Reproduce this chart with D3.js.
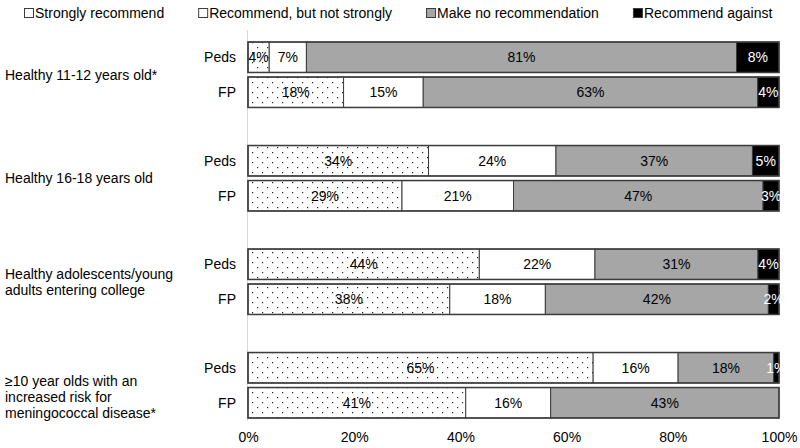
<!DOCTYPE html>
<html>
<head>
<meta charset="utf-8">
<script src="https://cdn.jsdelivr.net/npm/d3@7"></script>
<style>
  body { margin: 0; background: #fff; }
  text { font-family: "Liberation Sans", Arial, sans-serif; }
</style>
</head>
<body>
<div id="chart"></div>
<script>
const keys = ["Strongly recommend", "Recommend, but not strongly", "Make no recommendation", "Recommend against"];
const groups = [
    ["Healthy 11-12 years old*"],
    ["Healthy 16-18 years old"],
    ["Healthy adolescents/young", "adults entering college"],
    ["\u226510 year olds with an", "increased risk for", "meningococcal disease*"]
];
const rows = ["Peds", "FP"];
const pedsValues = [[4, 7, 81, 8], [34, 24, 37, 5], [44, 22, 31, 4], [65, 16, 18, 1]];
const fpValues = [[18, 15, 63, 4], [29, 21, 47, 3], [38, 18, 42, 2], [41, 16, 43, 0]];
const ticks = [0, 20, 40, 60, 80, 100];

const W = 800, H = 448;
const margin = { top: 23, right: 21, bottom: 11, left: 248 };

const svg = d3.select("#chart").append("svg")
    .attr("width", W)
    .attr("height", H);

// dotted fill for "strongly recommend"
const pat = svg.append("defs").append("pattern")
    .attr("id", "dots")
    .attr("patternUnits", "userSpaceOnUse")
    .attr("width", 10)
    .attr("height", 10);
pat.append("rect").attr("width", 10).attr("height", 10).attr("fill", "#fff");
pat.append("rect").attr("x", 2).attr("y", 2).attr("width", 1.2).attr("height", 1.2).attr("fill", "#222");
pat.append("rect").attr("x", 7).attr("y", 7).attr("width", 1.2).attr("height", 1.2).attr("fill", "#222");

const fills = ["url(#dots)", "#ffffff", "#a6a6a6", "#000000"];
const labelColors = ["#000", "#000", "#000", "#fff"];

const x = d3.scaleLinear()
    .domain([0, 100])
    .range([margin.left, W - margin.right]);

const yGroup = d3.scaleBand()
    .domain(d3.range(groups.length))
    .range([margin.top, H - margin.bottom]);

const yRow = d3.scaleBand()
    .domain(rows)
    .range([yGroup.bandwidth() / 2 - 35, yGroup.bandwidth() / 2 + 35])
    .paddingInner(0.13)
    .paddingOuter(0.065);

// axis line on the left
svg.append("line")
    .attr("x1", x(0) - 0.5).attr("x2", x(0) - 0.5)
    .attr("y1", 30).attr("y2", 421)
    .attr("stroke", "#d9d9d9")
    .attr("stroke-width", 1);

// build rows
const table = [];
groups.forEach((g, gi) => {
    [pedsValues[gi], fpValues[gi]].forEach((vals, ri) => {
        const total = d3.sum(vals);
        let acc = 0;
        vals.forEach((v, ki) => {
            table.push({ group: gi, row: rows[ri], key: ki, value: v, x0: acc / total * 100, x1: (acc + v) / total * 100 });
            acc += v;
        });
    });
});

const barY = d => yGroup(d.group) + yRow(d.row);

svg.append("g").selectAll("rect")
    .data(table.filter(d => d.value > 0))
    .join("rect")
    .attr("x", d => x(d.x0))
    .attr("y", barY)
    .attr("width", d => x(d.x1) - x(d.x0))
    .attr("height", yRow.bandwidth())
    .attr("fill", d => fills[d.key])
    .attr("stroke", "#3c3c3c")
    .attr("stroke-width", 1);

// thicker top/bottom edge of each bar
const barOutlines = [];
groups.forEach((g, gi) => rows.forEach(r => barOutlines.push({ group: gi, row: r })));
svg.append("g").selectAll("rect")
    .data(barOutlines)
    .join("rect")
    .attr("x", x(0))
    .attr("y", barY)
    .attr("width", x(100) - x(0))
    .attr("height", yRow.bandwidth())
    .attr("fill", "none")
    .attr("stroke", "#3c3c3c")
    .attr("stroke-width", 1.5);

svg.append("g").selectAll("text")
    .data(table.filter(d => d.value > 0))
    .join("text")
    .attr("x", d => (x(d.x0) + x(d.x1)) / 2)
    .attr("y", d => barY(d) + yRow.bandwidth() / 2)
    .attr("dy", "0.36em")
    .attr("text-anchor", "middle")
    .attr("fill", d => labelColors[d.key])
    .style("font-size", "14px")
    .text(d => d.value + "%");

// row labels
svg.append("g").selectAll("text")
    .data(barOutlines)
    .join("text")
    .attr("x", 236)
    .attr("y", d => barY(d) + yRow.bandwidth() / 2)
    .attr("dy", "0.36em")
    .attr("text-anchor", "end")
    .style("font-size", "14px")
    .text(d => d.row);

// group labels
const lineH = 16;
groups.forEach((lines, gi) => {
    const cy = yGroup(gi) + yGroup.bandwidth() / 2 + (lines.length > 2 ? 12 : 0);
    const t = svg.append("text")
        .attr("x", 5)
        .style("font-size", "14px");
    lines.forEach((l, li) => {
        t.append("tspan")
            .attr("x", 5)
            .attr("y", cy + (li - (lines.length - 1) / 2) * lineH)
            .attr("dy", "0.36em")
            .text(l);
    });
});

// x axis
const xAxis = svg.append("g")
    .attr("transform", "translate(0,429)")
    .call(d3.axisBottom(x).tickValues(ticks).tickSize(0).tickFormat(d => d + "%"));
xAxis.select(".domain").remove();
xAxis.selectAll("text")
    .style("font-family", "'Liberation Sans', Arial, sans-serif")
    .style("font-size", "14px")
    .attr("fill", "#000");

// legend
const legend = svg.append("g").attr("transform", "translate(24,13)");
let lx = 0;
keys.forEach((k, i) => {
    const item = legend.append("g").attr("transform", `translate(${lx},0)`);
    item.append("rect")
        .attr("x", 0.5).attr("y", -4.5)
        .attr("width", 9).attr("height", 9)
        .attr("fill", i === 0 ? "#fff" : fills[i])
        .attr("stroke", "#3c3c3c");
    const t = item.append("text")
        .attr("x", 11)
        .attr("dy", "0.36em")
        .style("font-size", "14px")
        .text(k);
    lx += 11 + t.node().getComputedTextLength() + 34;
});
</script>
</body>
</html>
